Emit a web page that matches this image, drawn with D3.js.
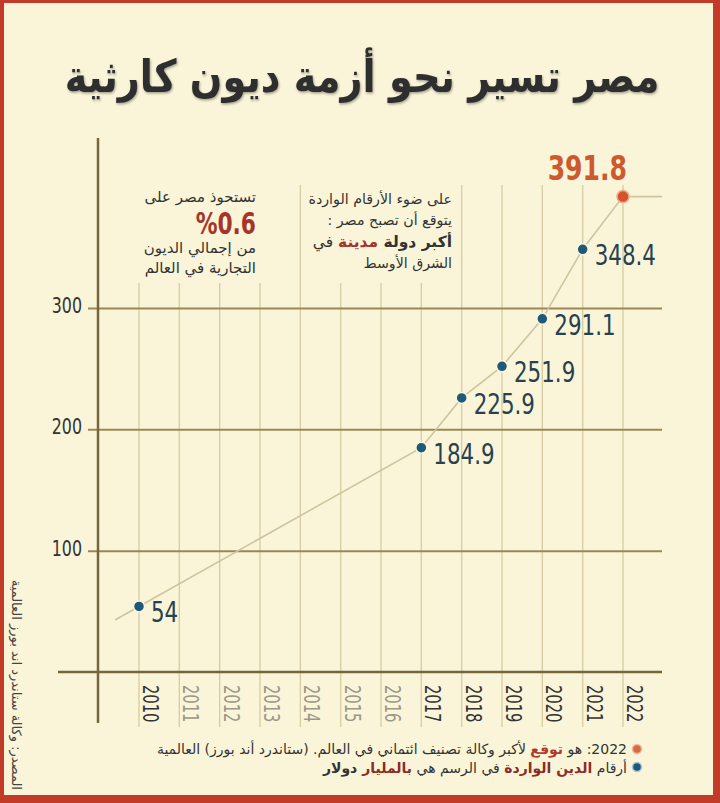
<!DOCTYPE html>
<html lang="ar">
<head>
<meta charset="utf-8">
<script src="https://cdn.jsdelivr.net/npm/d3@7"></script>
<style>
  body { margin: 0; background: #faf5d9; }
  svg { display: block; }
  .num { font-family: "Liberation Sans Narrow", "DejaVu Sans Condensed", "Roboto", sans-serif; }
  .ar { font-family: "DejaVu Sans", sans-serif; }
</style>
</head>
<body>
<div id="chart"></div>
<script>
// debt figures, billions of dollars
let years = [2010, 2017, 2018, 2019, 2020, 2021, 2022]
let debt = [54, 184.9, 225.9, 251.9, 291.1, 348.4, 391.8]

// tick labels
let axisYears = [2010, 2011, 2012, 2013, 2014, 2015, 2016, 2017, 2018, 2019, 2020, 2021, 2022]
let darkYears = [2010, 2017, 2018, 2019, 2020, 2021, 2022]
let yTicks = [100, 200, 300]

let width = 720, height = 803

let svg = d3.select("#chart").append("svg")
   .attr("width", width)
   .attr("height", height)

// squeeze text horizontally, the original uses a condensed face
function squeeze(sel, k) {
   sel.each(function () {
      let len = this.getComputedTextLength()
      d3.select(this)
         .attr("textLength", len * k)
         .attr("lengthAdjust", "spacingAndGlyphs")
   })
}

// background and red frame
svg.append("rect").attr("width", width).attr("height", height).attr("fill", "#c23a28")
svg.append("rect")
   .attr("x", 4).attr("y", 3)
   .attr("width", width - 11).attr("height", height - 11)
   .attr("fill", "#faf5d9")

let defs = svg.append("defs")
defs.append("filter").attr("id", "shadow")
   .append("feDropShadow")
   .attr("dx", 1).attr("dy", 1.5).attr("stdDeviation", 1)
   .attr("flood-color", "#000").attr("flood-opacity", 0.35)

// title (narrowed with a transform)
svg.append("text")
   .attr("class", "ar")
   .attr("transform", "translate(362,92) scale(0.85,1)")
   .attr("text-anchor", "middle")
   .attr("font-size", 45)
   .attr("font-weight", "bold")
   .attr("fill", "#2f2f2f")
   .attr("filter", "url(#shadow)")
   .text("مصر تسير نحو أزمة ديون كارثية")

// scales
let x = d3.scaleLinear().domain([2010, 2022]).range([139, 623])
let y = d3.scaleLinear().domain([0, 300]).range([672, 308])

let plotRight = 662

// vertical grid lines
svg.append("g").selectAll("line.vgrid").data(axisYears)
   .join("line")
   .attr("class", "vgrid")
   .attr("x1", d => x(d)).attr("x2", d => x(d))
   .attr("y1", 185).attr("y2", 727)
   .attr("stroke", "#d8cea6")
   .attr("stroke-width", 1.4)

// text boxes hide the grid behind them
svg.append("rect").attr("x", 104).attr("y", 150).attr("width", 192).attr("height", 133).attr("fill", "#faf5d9")
svg.append("rect").attr("x", 306).attr("y", 150).attr("width", 151).attr("height", 133).attr("fill", "#faf5d9")

// horizontal grid lines + y labels
let yAxis = svg.append("g")
   .attr("class", "y axis")
   .attr("transform", "translate(98,0)")
   .call(d3.axisLeft(y).tickValues(yTicks).tickSize(10).tickPadding(6))

yAxis.select(".domain").remove()

yAxis.selectAll("g.tick").each(function (d) {
   let thisTick = d3.select(this)
   thisTick.select("line")
      .attr("x1", plotRight - 98)
      .attr("x2", -10)
      .attr("stroke", "#9a8756")
      .attr("stroke-width", 2)
   thisTick.select("text")
      .attr("class", "num")
      .attr("font-size", 22)
      .attr("fill", "#333")
      .attr("dy", "0.2em")
})
squeeze(yAxis.selectAll("g.tick text"), 0.8)

// baseline and y axis line
svg.append("line")
   .attr("x1", 58).attr("x2", plotRight)
   .attr("y1", y(0)).attr("y2", y(0))
   .attr("stroke", "#76663c").attr("stroke-width", 2.5)
svg.append("line")
   .attr("x1", 98).attr("x2", 98)
   .attr("y1", 138).attr("y2", 723)
   .attr("stroke", "#76663c").attr("stroke-width", 2.5)

// year labels
let xAxis = svg.append("g")
   .attr("class", "x axis")
   .attr("transform", "translate(0," + y(0) + ")")
   .call(d3.axisBottom(x).tickValues(axisYears).tickFormat(d3.format("d")).tickSize(0))

xAxis.select(".domain").remove()

xAxis.selectAll("g.tick text")
   .attr("class", "num")
   .attr("transform", "rotate(90)")
   .attr("x", 13)
   .attr("y", -11)
   .attr("dy", "0.35em")
   .attr("text-anchor", "start")
   .attr("font-size", 21)
   .attr("fill", d => darkYears.includes(d) ? "#333" : "#9b988a")
squeeze(xAxis.selectAll("g.tick text"), 0.78)

// left text box
let box2 = svg.append("g").attr("class", "ar").attr("direction", "rtl").attr("text-anchor", "start")
box2.append("text").attr("x", 256).attr("y", 202).attr("font-size", 15).attr("fill", "#333").text("تستحوذ مصر على")
let pct = box2.append("text").attr("x", 256).attr("y", 234).attr("font-size", 31).attr("font-weight", "bold")
   .attr("class", "num").attr("fill", "#a5352c").text("%0.6")
squeeze(pct, 0.78)
box2.append("text").attr("x", 256).attr("y", 253).attr("font-size", 15).attr("fill", "#333").text("من إجمالي الديون")
box2.append("text").attr("x", 256).attr("y", 273).attr("font-size", 15).attr("fill", "#333").text("التجارية في العالم")

// middle text box
let box1 = svg.append("g").attr("class", "ar").attr("direction", "rtl").attr("text-anchor", "start")
box1.append("text").attr("x", 452).attr("y", 204).attr("font-size", 14.2).attr("fill", "#333").text("على ضوء الأرقام الواردة")
box1.append("text").attr("x", 452).attr("y", 225).attr("font-size", 14.2).attr("fill", "#333").text("يتوقع أن تصبح مصر :")
let l3 = box1.append("text").attr("x", 452).attr("y", 247).attr("font-size", 15.5).attr("fill", "#333")
l3.append("tspan").attr("font-weight", "bold").text("أكبر دولة ")
l3.append("tspan").attr("font-weight", "bold").attr("fill", "#a5352c").text("مدينة")
l3.append("tspan").text(" في")
box1.append("text").attr("x", 452).attr("y", 268).attr("font-size", 14.2).attr("fill", "#333").text("الشرق الأوسط")

// debt line
let pts = years.map((d, i) => [x(d), y(debt[i])])
let ext = [pts[0][0] - (pts[1][0] - pts[0][0]) * 0.085, pts[0][1] - (pts[1][1] - pts[0][1]) * 0.085]
let last = pts[pts.length - 1]

svg.append("path")
   .datum([ext].concat(pts).concat([[plotRight, last[1]]]))
   .attr("d", d3.line())
   .attr("fill", "none")
   .attr("stroke", "#cfc49f")
   .attr("stroke-width", 1.6)

let n = years.length

svg.selectAll("circle.pt").data(years)
   .join("circle")
   .attr("class", "pt")
   .attr("cx", d => x(d))
   .attr("cy", (d, i) => y(debt[i]))
   .attr("r", (d, i) => i === n - 1 ? 6 : 5.5)
   .attr("fill", (d, i) => i === n - 1 ? "#d4532c" : "#1d5979")
   .attr("stroke", (d, i) => i === n - 1 ? "#f0a98a" : "#faf5d9")
   .attr("stroke-width", 1.5)

let vals = svg.selectAll("text.val").data(years.slice(0, n - 1))
   .join("text")
   .attr("class", "val num")
   .attr("x", d => x(d) + 12)
   .attr("y", (d, i) => y(debt[i]) + 16)
   .attr("font-size", 28)
   .attr("fill", "#27414f")
   .text((d, i) => debt[i])
squeeze(vals, 0.85)

let lastLabel = svg.append("text")
   .attr("class", "num")
   .attr("x", last[0] + 4)
   .attr("y", last[1] - 17)
   .attr("text-anchor", "end")
   .attr("font-size", 34)
   .attr("font-weight", "bold")
   .attr("fill", "#cc5a2e")
   .text(debt[n - 1])
squeeze(lastLabel, 0.82)

// notes
svg.append("circle").attr("cx", 637).attr("cy", 749).attr("r", 4.5).attr("fill", "#d66a40").attr("stroke", "#f0b69d").attr("stroke-width", 1.5)
svg.append("circle").attr("cx", 637).attr("cy", 767).attr("r", 4.5).attr("fill", "#1d5979").attr("stroke", "#a8c6d6").attr("stroke-width", 1.5)

let note1 = svg.append("text").attr("class", "ar").attr("direction", "rtl").attr("text-anchor", "start")
   .attr("x", 627).attr("y", 754).attr("font-size", 14).attr("fill", "#333")
note1.append("tspan").text("2022: هو ")
note1.append("tspan").attr("fill", "#b23a2c").attr("font-weight", "bold").text("توقع")
note1.append("tspan").text(" لأكبر وكالة تصنيف ائتماني في العالم. (ستاندرد أند بورز) العالمية")

let note2 = svg.append("text").attr("class", "ar").attr("direction", "rtl").attr("text-anchor", "start")
   .attr("x", 627).attr("y", 773).attr("font-size", 14).attr("fill", "#333")
note2.append("tspan").text("أرقام ")
note2.append("tspan").attr("fill", "#8e2b25").attr("font-weight", "bold").text("الدين الواردة")
note2.append("tspan").text(" في الرسم هي ")
note2.append("tspan").attr("fill", "#8e2b25").attr("font-weight", "bold").text("بالمليار")
note2.append("tspan").attr("font-weight", "bold").text(" دولار")

// source, along the left edge
svg.append("text")
   .attr("class", "ar")
   .attr("direction", "rtl")
   .attr("text-anchor", "start")
   .attr("transform", "translate(12,790) rotate(90)")
   .attr("font-size", 13)
   .attr("fill", "#444")
   .text("المصدر: وكالة ستاندرد اند بورز العالمية")
</script>
</body>
</html>
